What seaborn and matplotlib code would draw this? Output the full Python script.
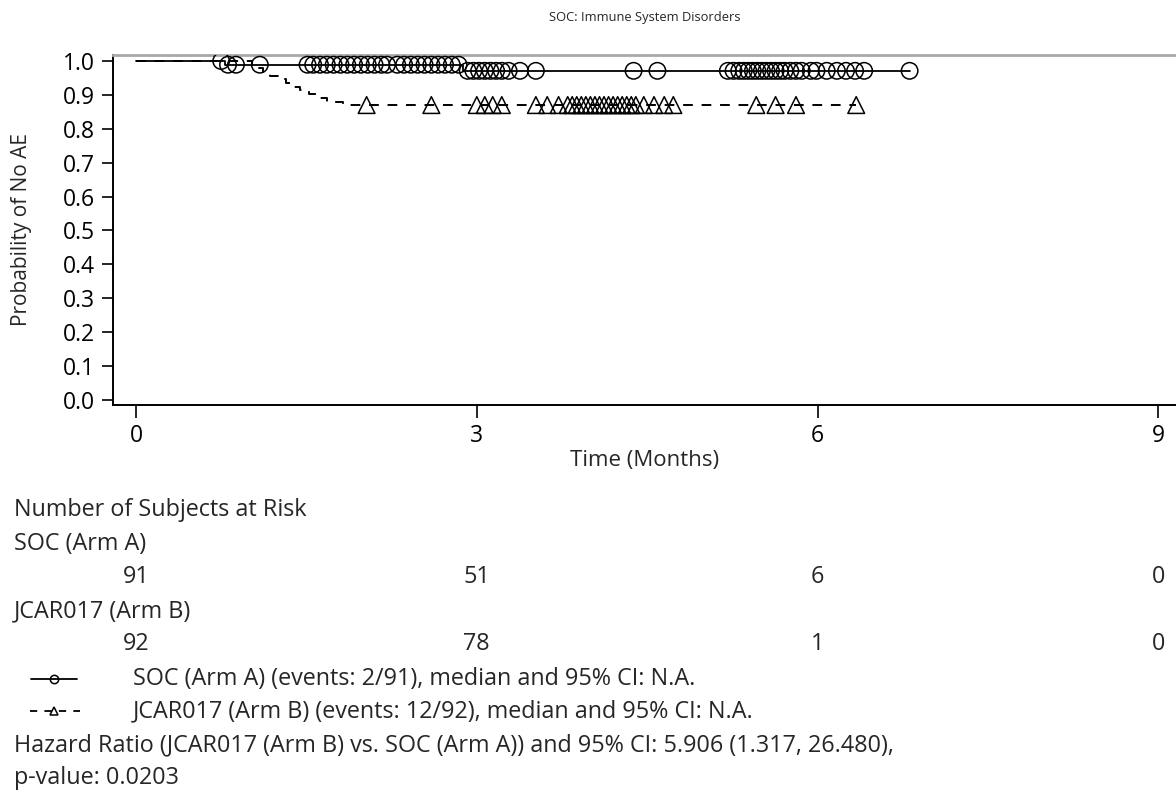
import numpy as np
import pandas as pd
import matplotlib
matplotlib.use("Agg")
import matplotlib.pyplot as plt
import matplotlib.transforms as mtransforms
from matplotlib.lines import Line2D
import seaborn as sns

title = "SOC: Immune System Disorders"
x_label = "Time (Months)"
y_label = "Probability of No AE"
arm_names = ["SOC (Arm A)", "JCAR017 (Arm B)"]

# Kaplan-Meier step curves (months, probability of no AE)
a_step_time = [0.0, 0.78, 2.88, 6.81]
a_step_surv = [1.0, 0.989, 0.971, 0.971]
b_step_time = [0.0, 1.02, 1.07, 1.12, 1.18, 1.25, 1.32, 1.38, 1.44, 1.52,
               1.60, 1.68, 1.82, 6.34]
b_step_surv = [1.0, 0.989, 0.978, 0.967, 0.957, 0.946, 0.935, 0.924, 0.913,
               0.902, 0.891, 0.880, 0.870, 0.870]

# censored subjects: time and number censored at that time
a_cens_time = [0.75, 0.81, 0.88, 1.09,
               1.51, 1.56, 1.62, 1.68, 1.74, 1.80, 1.86, 1.92, 1.98, 2.04, 2.10, 2.16, 2.21,
               2.30, 2.36, 2.42, 2.48, 2.54, 2.60, 2.66, 2.72, 2.78, 2.84, 2.92, 2.97,
               3.02, 3.07, 3.12, 3.17, 3.22, 3.28, 3.38, 3.52, 4.38, 4.59,
               5.21, 5.26, 5.31, 5.35, 5.39, 5.43, 5.47, 5.51, 5.55, 5.59, 5.63, 5.67,
               5.71, 5.76, 5.81, 5.86, 5.94, 5.99,
               6.08, 6.17, 6.25, 6.33, 6.41, 6.81]
a_cens_n = [1, 1, 1, 1,
            1, 2, 1, 2, 1, 2, 1, 2, 1, 1, 2, 1, 1,
            1, 2, 1, 2, 1, 2, 1, 2, 1, 1, 1, 1,
            1, 1, 1, 1, 1, 1, 1, 1, 1, 1,
            1, 2, 3, 3, 3, 2, 2, 3, 2, 2, 2, 2,
            2, 1, 2, 1, 1, 1,
            1, 1, 1, 1, 1, 1]
b_cens_time = [2.03, 2.60,
               3.00, 3.07, 3.14, 3.22, 3.52, 3.62, 3.72,
               3.80, 3.84, 3.88, 3.92, 3.96, 4.00, 4.04, 4.08, 4.12, 4.16, 4.20,
               4.24, 4.28, 4.32, 4.36, 4.40,
               4.47, 4.56, 4.65, 4.73, 5.46, 5.63, 5.81, 6.34]
b_cens_n = [1, 1,
            1, 1, 1, 1, 1, 1, 1,
            3, 4, 4, 4, 5, 5, 4, 4, 5, 4, 4,
            4, 4, 3, 3, 3,
            1, 1, 1, 1, 1, 1, 1, 1]

# number of subjects at risk
risk_times = [0, 3, 6, 9]
a_at_risk = [91, 51, 6, 0]
b_at_risk = [92, 78, 1, 0]

legend_a = "SOC (Arm A) (events: 2/91), median and 95% CI: N.A."
legend_b = "JCAR017 (Arm B) (events: 12/92), median and 95% CI: N.A."
hr_text = "Hazard Ratio (JCAR017 (Arm B) vs. SOC (Arm A)) and 95% CI: 5.906 (1.317, 26.480),"
p_text = "p-value: 0.0203"

sns.set_style("ticks")
plt.rcParams["font.family"] = ["Open Sans", "DejaVu Sans"]
FS_TICK = 16.5
FS = 16.8        # at-risk table, legend entries and footnote

W, H = 1176, 798
fig = plt.figure(figsize=(W / 100, H / 100), dpi=100)

# pixel-coordinate overlay for the text block under the plot
ov = fig.add_axes([0, 0, 1, 1])
ov.set_xlim(0, W)
ov.set_ylim(H, 0)
ov.axis("off")

AX_L, AX_T, AX_B = 113, 55, 405
ax = fig.add_axes([AX_L / W, 1 - AX_B / H, 1 - AX_L / W, (AX_B - AX_T) / H])


def surv_at(times, step_time, step_surv):
    idx = np.searchsorted(step_time, times, side="right") - 1
    return np.asarray(step_surv)[idx]


curves = pd.concat([
    pd.DataFrame({"time": a_step_time, "surv": a_step_surv, "arm": arm_names[0]}),
    pd.DataFrame({"time": b_step_time, "surv": b_step_surv, "arm": arm_names[1]}),
])

sns.lineplot(data=curves[curves.arm == arm_names[0]], x="time", y="surv",
             drawstyle="steps-post", estimator=None, sort=False, color="black",
             linewidth=1.3, ax=ax, zorder=2)
sns.lineplot(data=curves[curves.arm == arm_names[1]], x="time", y="surv",
             drawstyle="steps-post", estimator=None, sort=False, color="black",
             linewidth=1.4, linestyle=(0, (5, 4.5)), ax=ax, zorder=2)

a_cens = pd.DataFrame({"time": a_cens_time, "n": a_cens_n})
a_cens["surv"] = surv_at(a_cens["time"].values, a_step_time, a_step_surv)
b_cens = pd.DataFrame({"time": b_cens_time, "n": b_cens_n})
b_cens["surv"] = surv_at(b_cens["time"].values, b_step_time, b_step_surv)

sns.scatterplot(data=a_cens, x="time", y="surv", marker="o", s=140,
                facecolor="none", edgecolor="black", linewidth=1.1, ax=ax, zorder=3)
sns.scatterplot(data=b_cens, x="time", y="surv", marker="^", s=145,
                facecolor="none", edgecolor="black", linewidth=1.1, ax=ax, zorder=3)

ax.set_xlim(-0.2025, 9.155)
ax.set_ylim(-0.015, 1.0177)
ax.set_xticks(risk_times)
ax.set_xticklabels([str(t) for t in risk_times], fontsize=FS_TICK)
yt = np.round(np.arange(0, 1.01, 0.1), 1)
ax.set_yticks(yt)
ax.set_yticklabels([f"{v:.1f}" for v in yt], fontsize=FS_TICK)
ax.tick_params(axis="x", direction="out", length=9, width=1.2, pad=5, colors="black")
ax.tick_params(axis="y", direction="out", length=8, width=1.2, pad=5, colors="black")
ax.set_xlabel(x_label, fontsize=16, va="center")
ax.xaxis.set_label_coords(0.5, (AX_B - 460) / (AX_B - AX_T))
ax.set_ylabel(y_label, fontsize=15, va="center")
ax.yaxis.set_label_coords((22 - AX_L) / (W - AX_L), 0.5)
ax.set_title(title, fontsize=9.3, va="center", y=(AX_B - 17) / (AX_B - AX_T), pad=0)

for side in ("left", "bottom"):
    ax.spines[side].set_color("black")
    ax.spines[side].set_linewidth(1.4)
ax.spines["top"].set_color("#a8a8a8")
ax.spines["top"].set_linewidth(2)
ax.spines["right"].set_visible(False)

# at-risk table: columns follow the x axis, rows in pixel rows
blend = mtransforms.blended_transform_factory(ax.transData, ov.transData)
ov.text(14, 510, "Number of Subjects at Risk", fontsize=FS, va="center", ha="left")
ov.text(14, 544, arm_names[0], fontsize=FS, va="center", ha="left")
ov.text(14, 611, arm_names[1], fontsize=FS, va="center", ha="left")
for t, na, nb in zip(risk_times, a_at_risk, b_at_risk):
    ov.text(t, 577, str(na), fontsize=FS, va="center", ha="center", transform=blend)
    ov.text(t, 644, str(nb), fontsize=FS, va="center", ha="center", transform=blend)

# legend rows
ov.add_line(Line2D([31, 77], [679, 679], color="black", lw=1.3))
ov.plot([54], [679], marker="o", ms=6, mfc="none", mec="black", mew=1.1)
ov.add_line(Line2D([30, 80], [711, 711], color="black", lw=1.3, linestyle=(0, (4, 4))))
ov.plot([54], [711], marker="^", ms=6, mfc="none", mec="black", mew=1.1)
ov.text(133, 679, legend_a, fontsize=FS, va="center", ha="left")
ov.text(133, 711, legend_b, fontsize=FS, va="center", ha="left")
ov.text(14, 745, hr_text, fontsize=FS, va="center", ha="left")
ov.text(14, 778, p_text, fontsize=FS, va="center", ha="left")

fig.savefig("out.png", dpi=100)
